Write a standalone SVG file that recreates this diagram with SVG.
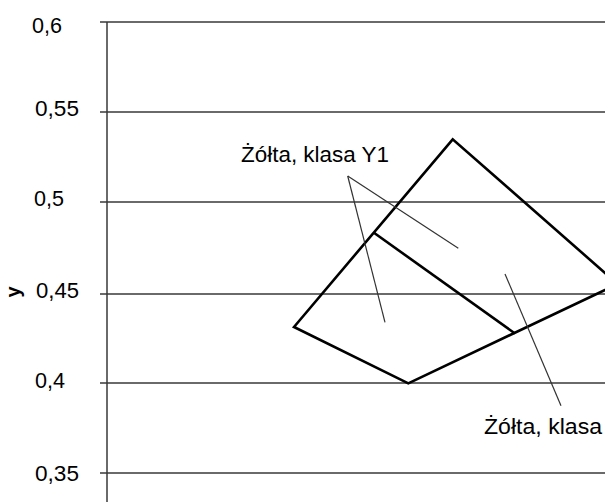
<svg xmlns="http://www.w3.org/2000/svg" width="605" height="502" viewBox="0 0 605 502">
<style>
.grid{stroke:#383838;stroke-width:1.5;fill:none}
.shape{stroke:#000;stroke-width:2.6;fill:none;stroke-linejoin:miter}
.lead{stroke:#333;stroke-width:1.2;fill:none}
text{font-family:"Liberation Sans",Arial,sans-serif;font-size:21.5px;fill:#000}
</style>
<rect width="605" height="502" fill="#fff"/>
<g id="axis">
<line class="grid" x1="107" y1="22" x2="107" y2="502"/>
<line class="grid" x1="100" y1="22" x2="605" y2="22"/>
<line class="grid" x1="100" y1="112" x2="605" y2="112"/>
<line class="grid" x1="100" y1="202" x2="605" y2="202"/>
<line class="grid" x1="100" y1="294" x2="605" y2="294"/>
<line class="grid" x1="100" y1="383" x2="605" y2="383"/>
<line class="grid" x1="100" y1="473" x2="605" y2="473"/>
<text x="32" y="32.5" textLength="30" lengthAdjust="spacingAndGlyphs">0,6</text>
<text x="35" y="116" textLength="44" lengthAdjust="spacingAndGlyphs">0,55</text>
<text x="34" y="206" textLength="30" lengthAdjust="spacingAndGlyphs">0,5</text>
<text x="36" y="298" textLength="43" lengthAdjust="spacingAndGlyphs">0,45</text>
<text x="35" y="388" textLength="30" lengthAdjust="spacingAndGlyphs">0,4</text>
<text x="35" y="481" textLength="44" lengthAdjust="spacingAndGlyphs">0,35</text>
<text transform="translate(20,292) rotate(-90)" text-anchor="middle" font-weight="bold" style="font-size:20px">y</text>
</g>
<g id="region">
<polygon class="shape" points="294,327 452.7,139.3 617.6,284 408.3,383.3"/>
<line class="shape" x1="374.3" y1="233" x2="515" y2="333.5"/>
</g>
<g id="connectors">
<line class="lead" x1="347.7" y1="176" x2="458.3" y2="248.3"/>
<line class="lead" x1="347.7" y1="176" x2="385" y2="322.3"/>
<line class="lead" x1="505" y1="274" x2="561" y2="405.7"/>
</g>
<g id="label-y1">
<text x="241" y="161.5" textLength="148" lengthAdjust="spacingAndGlyphs">Żółta, klasa Y1</text>
</g>
<g id="label-y2">
<text x="484" y="434" textLength="118" lengthAdjust="spacingAndGlyphs">Żółta, klasa</text>
</g>
</svg>
